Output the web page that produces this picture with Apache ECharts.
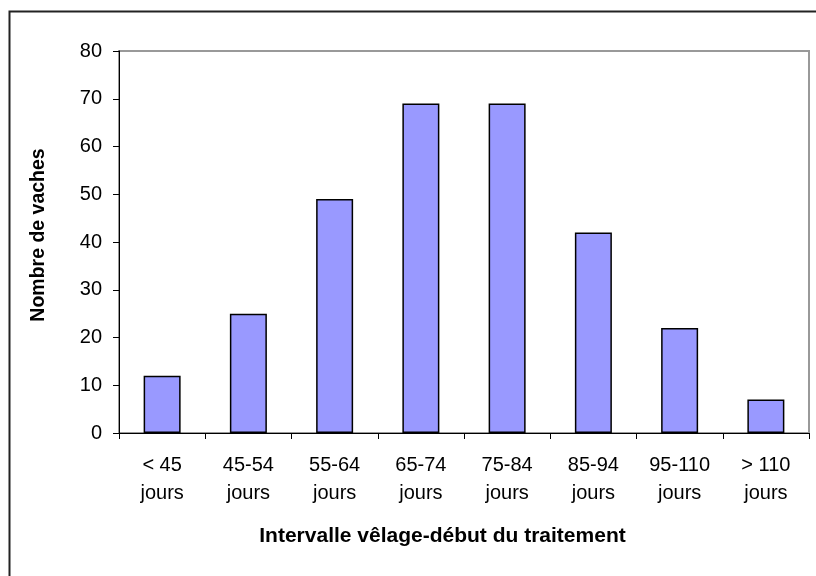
<!DOCTYPE html>
<html><head><meta charset="utf-8">
<script src="https://cdn.jsdelivr.net/npm/echarts@6/dist/echarts.min.js"></script>
<style>html,body{margin:0;padding:0;background:#fff}#c{width:816px;height:576px}</style>
</head><body><div id="c"></div>
<script>
var categories = ['< 45\njours','45-54\njours','55-64\njours','65-74\njours','75-84\njours','85-94\njours','95-110\njours','> 110\njours'];
var values = [12, 25, 49, 69, 69, 42, 22, 7];
var yTicks = {min: 0, max: 80, interval: 10};
var xName = 'Intervalle vêlage-début du traitement';
var yName = 'Nombre de vaches';

var chart = echarts.init(document.getElementById('c'), null, {renderer: 'canvas'});
var font = 'Liberation Sans, Arial, sans-serif';
chart.setOption({
  animation: false,
  backgroundColor: '#fff',
  graphic: [{
    type: 'rect', shape: {x: 9.5, y: 11.5, width: 820, height: 600},
    style: {fill: 'none', stroke: '#222', lineWidth: 2}, silent: true
  }],
  grid: {left: 119, top: 51, right: 7, bottom: 143, show: true, borderColor: '#999', borderWidth: 2, containLabel: false},
  xAxis: {
    type: 'category', data: categories,
    name: xName, nameLocation: 'middle', nameGap: 93,
    nameTextStyle: {fontFamily: font, fontSize: 21, fontWeight: 'bold', color: '#000', padding: [0, 43, 0, 0]},
    axisLine: {lineStyle: {color: '#000', width: 1}},
    axisTick: {show: true, alignWithLabel: false, length: 6, lineStyle: {color: '#000'}},
    axisLabel: {fontFamily: font, fontSize: 20, color: '#000', margin: 18, lineHeight: 28}
  },
  yAxis: {
    type: 'value', min: yTicks.min, max: yTicks.max, interval: yTicks.interval,
    name: yName, nameLocation: 'middle', nameGap: 70, nameRotate: 90,
    nameTextStyle: {fontFamily: font, fontSize: 19.5, fontWeight: 'bold', color: '#000', padding: [0, 0, 0, 14]},
    axisLine: {show: true, lineStyle: {color: '#000', width: 1}},
    axisTick: {show: true, length: 6, lineStyle: {color: '#000'}},
    splitLine: {show: false},
    axisLabel: {fontFamily: font, fontSize: 20, color: '#000', margin: 17}
  },
  series: [{
    type: 'bar', data: values, barWidth: 37,
    itemStyle: {color: '#9999FF', borderColor: '#000', borderWidth: 1.5}
  }]
});
</script></body></html>
